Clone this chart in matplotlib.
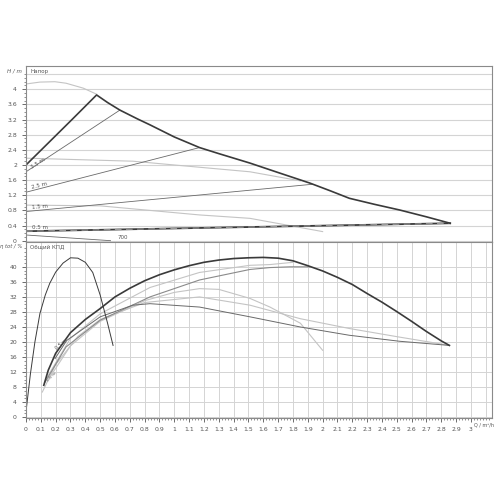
import matplotlib.pyplot as plt
import numpy as np

# --- top panel: head H (m) vs flow Q (m3/h) ---
max_h_q = [0, 0.15, 0.31, 0.476, 0.55, 0.633, 0.75, 0.836, 1.0, 1.17, 1.3, 1.51,
           1.7, 1.915, 2.05, 2.18, 2.35, 2.52, 2.7, 2.86]
max_h_h = [2.0, 2.58, 3.2, 3.85, 3.65, 3.45, 3.22, 3.06, 2.74, 2.46, 2.3, 2.05,
           1.8, 1.52, 1.32, 1.12, 0.96, 0.81, 0.63, 0.46]

gray1_q = [0, 0.094, 0.195, 0.27, 0.386, 0.476]
gray1_h = [4.14, 4.19, 4.2, 4.16, 4.03, 3.87]
gray2_q = [0, 0.72, 1.0, 1.51, 1.85]
gray2_h = [2.18, 2.1, 2.0, 1.82, 1.58]
gray3_q = [0, 0.5, 1.17, 1.51, 2.0]
gray3_h = [0.94, 0.92, 0.68, 0.59, 0.24]

set_q = [[0, 0.633], [0, 1.17], [0, 1.93], [0, 2.86]]
set_h = [[1.82, 3.45], [1.28, 2.46], [0.77, 1.49], [0.25, 0.46]]
set_names = ['3.5 m', '2.5 m', '1.5 m', '0.5 m']
set_rot = [32, 14, 5, 0]

low_q = [0, 0.57]
low_h = [0.15, 0.0]

# --- bottom panel: total efficiency (%) vs Q ---
hill_q = [0, 0.03, 0.06, 0.094, 0.13, 0.16, 0.2, 0.25, 0.3, 0.35, 0.4, 0.45,
          0.5, 0.55, 0.587]
hill_e = [1.5, 11.6, 20, 27.6, 32.5, 35.6, 38.6, 41, 42.4, 42.3, 41.2, 38.5,
          32.5, 25, 19.1]

max_e_q = [0.12, 0.15, 0.2, 0.3, 0.4, 0.5, 0.6, 0.7, 0.8, 0.9, 1.0, 1.1, 1.2,
           1.3, 1.4, 1.5, 1.6, 1.7, 1.8, 1.9, 2.0, 2.1, 2.2, 2.3, 2.4, 2.5,
           2.6, 2.7, 2.8, 2.855]
max_e = [8.5, 12.5, 17, 22.5, 26, 28.9, 32, 34.3, 36.3, 37.9, 39.2, 40.3, 41.2,
         41.8, 42.2, 42.4, 42.5, 42.3, 41.6, 40.3, 38.9, 37.2, 35.3, 32.9, 30.6,
         28.1, 25.5, 22.8, 20.3, 19.1]

e2_q = [0.196, 0.274, 0.5, 0.72, 0.836, 1.17, 1.51, 1.85, 2.18, 2.52, 2.855]
e2 = [15.6, 20.4, 26.7, 29.8, 30.2, 29.3, 26.7, 24.0, 21.8, 20.2, 19.1]
e3_q = [0.15, 0.3, 0.5, 0.8, 1.0, 1.17, 1.3, 1.51, 1.645, 1.85, 2.0]
e3 = [10, 19, 25.5, 31, 33.2, 34.2, 34, 31.6, 29.3, 25, 17.8]
e4_q = [0.11, 0.2, 0.35, 0.5, 0.8, 1.17, 1.51, 1.85, 2.18, 2.52, 2.72, 2.855]
e4 = [6.7, 14, 21.5, 26, 30.5, 32, 29.8, 26.2, 23.6, 21.3, 20, 19.1]
e5_q = [0.128, 0.27, 0.5, 0.836, 1.17, 1.51, 1.645, 1.78, 1.915]
e5 = [9.3, 18.7, 25.8, 32, 36.5, 39.3, 39.8, 40, 40]
e6_q = [0.14, 0.3, 0.5, 0.836, 1.17, 1.51, 1.645, 1.8]
e6 = [10.5, 21, 27.5, 34.5, 38.5, 40.4, 40.6, 41.2]

x_ticks = [round(v, 1) for v in np.arange(0, 3.01, 0.1)]
x_labels = ['%g' % v for v in x_ticks]
h_ticks = [0, 0.4, 0.8, 1.2, 1.6, 2, 2.4, 2.8, 3.2, 3.6, 4]
e_ticks = [0, 4, 8, 12, 16, 20, 24, 28, 32, 36, 40]

DARK = '#3a3a3a'
LIGHT = '#c4c4c4'
MID = '#6a6a6a'
GRID = '#d4d4d4'
TXT = '#555555'
FS = 4.4

fig = plt.figure(figsize=(5, 5), dpi=100)
ax1 = fig.add_axes([0.052, 0.516, 0.932, 0.352])
ax2 = fig.add_axes([0.052, 0.164, 0.932, 0.352])

for ax in (ax1, ax2):
    ax.set_xlim(0, 3.142)
    for s in ax.spines.values():
        s.set_color('#8a8a8a')
        s.set_linewidth(0.8)
    ax.tick_params(labelsize=FS, colors=TXT, length=3, width=0.6)
    ax.tick_params(which='minor', length=1.5, width=0.5, colors='#666666')

# top panel
ax1.set_ylim(-0.035, 4.615)
ax1.set_yticks(h_ticks)
ax1.set_yticklabels(['%g' % v for v in h_ticks])
ax1.set_yticks(np.arange(0, 4.45, 0.1), minor=True)
ax1.set_xticks([])
for v in list(h_ticks) + [4.4]:
    ax1.axhline(v, color=GRID, lw=0.8, zorder=0)

ax1.plot(gray1_q, gray1_h, color=LIGHT, lw=0.8)
ax1.plot(gray2_q, gray2_h, color=LIGHT, lw=0.8)
ax1.plot(gray3_q, gray3_h, color=LIGHT, lw=0.8)
for i in range(3):
    ax1.plot(set_q[i], set_h[i], color=MID, lw=0.6)
    ax1.text(0.04, set_h[i][0] + 0.08, set_names[i], fontsize=FS - 0.4, color=TXT,
             rotation=set_rot[i], rotation_mode='anchor')
ax1.plot(set_q[3], set_h[3], color=DARK, lw=1.3)
ax1.plot(set_q[3], set_h[3], color='#9a9a9a', lw=0.8, dashes=(6, 4))
ax1.text(0.04, set_h[3][0] + 0.07, set_names[3], fontsize=FS - 0.4, color=TXT)
ax1.plot(low_q, low_h, color=MID, lw=0.6)
ax1.text(0.62, 0.04, '700', fontsize=FS - 0.4, color=TXT)
ax1.plot(max_h_q, max_h_h, color=DARK, lw=1.2)

ax1.text(-0.03, 4.47, 'H / m', fontsize=FS - 0.4, color=TXT, ha='right', va='center',
         style='italic')
ax1.text(0.03, 4.47, 'Напор', fontsize=FS - 0.4, color=TXT, va='center')

# bottom panel
ax2.set_ylim(-0.2, 46.6)
ax2.set_yticks(e_ticks)
ax2.set_yticklabels(['%g' % v for v in e_ticks])
ax2.set_yticks(np.arange(0, 46, 1), minor=True)
ax2.set_xticks(x_ticks)
ax2.set_xticklabels(x_labels)
ax2.set_xticks(np.arange(0, 3.14, 0.02), minor=True)
ax2.grid(True, color=GRID, lw=0.7, zorder=0)
ax2.axvline(3.1, color=GRID, lw=0.7, zorder=0)

ax2.plot(e3_q, e3, color=LIGHT, lw=0.8)
ax2.plot(e4_q, e4, color=LIGHT, lw=0.8)
ax2.plot(e6_q, e6, color=LIGHT, lw=0.8)
ax2.plot(e5_q, e5, color='#8a8a8a', lw=0.8)
ax2.plot(e2_q, e2, color=MID, lw=0.7)
ax2.plot(hill_q, hill_e, color=DARK, lw=0.7)
ax2.plot(max_e_q, max_e, color=DARK, lw=1.2)
ax2.text(0.21, 18.0, '0.5 m', fontsize=FS - 1, color=TXT, rotation=40,
         rotation_mode='anchor')
ax2.text(0.15, 9.5, '1.5 m', fontsize=FS - 1.2, color='#666666', rotation=45,
         rotation_mode='anchor')

ax2.text(-0.025, 45.3, 'η tot / %', fontsize=FS - 0.6, color=TXT, ha='right',
         va='center', style='italic')
ax2.text(0.03, 45.3, 'Общий КПД', fontsize=FS - 0.4, color=TXT, va='center')
ax2.annotate('Q / m³/h', xy=(3.02, 0), xycoords=('data', 'axes fraction'),
             xytext=(0, -3.5), textcoords='offset points', fontsize=FS - 0.9,
             color=TXT, va='top', ha='left')

fig.savefig('out.png', dpi=100, facecolor='white')
